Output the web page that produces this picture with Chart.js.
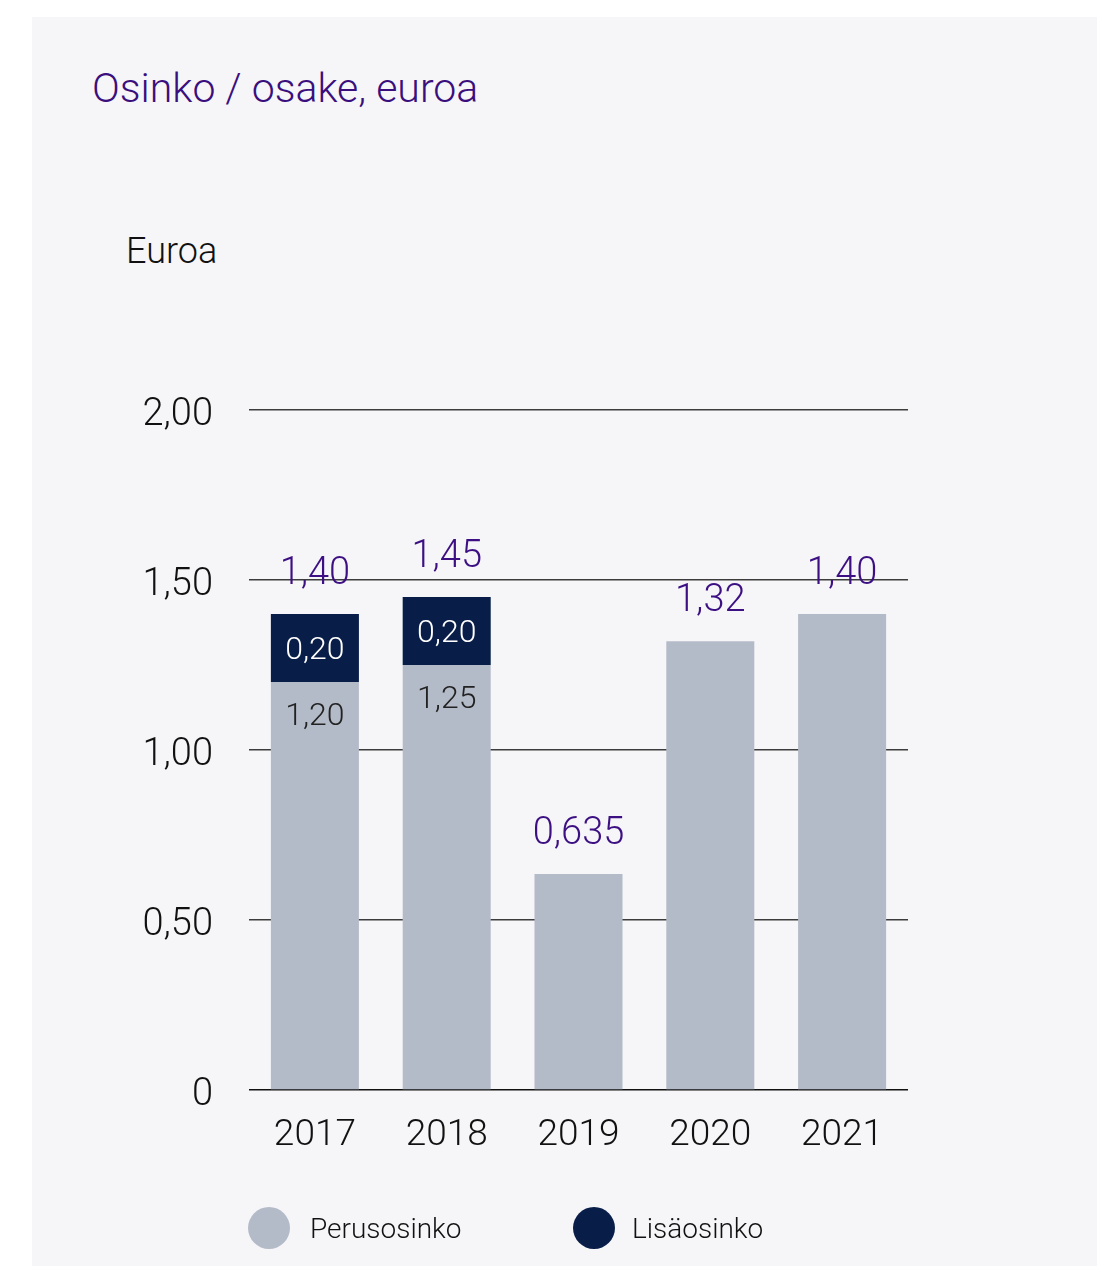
<!DOCTYPE html>
<html>
<head>
<meta charset="utf-8">
<script src="https://cdn.jsdelivr.net/npm/chart.js@4.4.0/dist/chart.umd.min.js"></script>
<style>
    html, body { margin: 0; padding: 0; background: #ffffff; }
    body { width: 1097px; height: 1266px; position: relative; overflow: hidden; font-family: Roboto, sans-serif; }
    .panel { position: absolute; left: 32px; top: 17px; width: 1065px; height: 1249px; background: #f6f6f9; }
    .title { position: absolute; left: 92px; top: 68px; font-size: 41px; font-weight: 300; line-height: 1; color: #3a0f7d; white-space: nowrap; }
    .unit { position: absolute; left: 126px; top: 233px; font-size: 36px; font-weight: 300; line-height: 1; color: #111111; }
    #chart { position: absolute; left: 0; top: 0; }
    .legend-item { position: absolute; top: 1207px; height: 42px; display: flex; align-items: center; }
    .legend-dot { width: 42px; height: 42px; border-radius: 50%; margin-right: 20px; }
    .legend-text { font-size: 28px; font-weight: 300; color: #111111; white-space: nowrap; }
</style>
</head>
<body>
<div class="panel"></div>
<div class="title">Osinko / osake, euroa</div>
<div class="unit">Euroa</div>
<canvas id="chart" width="1097" height="1266"></canvas>
<div class="legend-item" style="left:248px"><div class="legend-dot" style="background:#b4bbc8"></div><div class="legend-text">Perusosinko</div></div>
<div class="legend-item" style="left:573px"><div class="legend-dot" style="background:#081e48"></div><div class="legend-text" style="margin-left:-3px">Lisäosinko</div></div>
<script>
const years = ['2017', '2018', '2019', '2020', '2021'];
const baseDividend = [1.20, 1.25, 0.635, 1.32, 1.40];
const extraDividend = [0.20, 0.20, 0, 0, 0];
const yTicks = [0, 0.5, 1, 1.5, 2];

const grayColor = '#b4bbc8';
const navyColor = '#081e48';
const purpleColor = '#3c1082';

function fmt(v) {
    const r = Math.round(v * 1000) / 1000;
    let s = r.toFixed(3);
    if (s.endsWith('0')) s = r.toFixed(2);
    return s.replace('.', ',');
}

// totals above bars, segment values inside stacked bars
const labelPlugin = {
    id: 'barLabels',
    afterDatasetsDraw(chart) {
        const ctx = chart.ctx;
        const baseMeta = chart.getDatasetMeta(0);
        const extraMeta = chart.getDatasetMeta(1);
        ctx.save();
        ctx.textAlign = 'center';
        ctx.textBaseline = 'middle';
        years.forEach((year, i) => {
            const b = baseMeta.data[i];
            const e = extraMeta.data[i];
            const hasExtra = extraDividend[i] > 0;
            const topY = hasExtra ? e.y : b.y;

            ctx.fillStyle = purpleColor;
            ctx.font = '300 38px Roboto';
            ctx.fillText(fmt(baseDividend[i] + extraDividend[i]), b.x, topY - 40);

            if (hasExtra) {
                ctx.font = '300 32px Roboto';
                ctx.fillStyle = '#ffffff';
                ctx.fillText(fmt(extraDividend[i]), e.x, (e.y + e.base) / 2 + 3);
                ctx.fillStyle = '#222222';
                ctx.fillText(fmt(baseDividend[i]), b.x, b.y + 35);
            }
        });
        ctx.restore();
    }
};

new Chart(document.getElementById('chart'), {
    type: 'bar',
    data: {
        labels: years,
        datasets: [{
            label: 'Perusosinko',
            data: baseDividend,
            backgroundColor: grayColor,
            borderWidth: 0
        }, {
            label: 'Lisäosinko',
            data: extraDividend.map(v => v > 0 ? v : null),
            backgroundColor: navyColor,
            borderWidth: 0
        }]
    },
    options: {
        responsive: false,
        animation: false,
        layout: {
            padding: { top: 410, right: 189, bottom: 76, left: 0 }
        },
        datasets: {
            bar: { categoryPercentage: 1, barPercentage: 0.668 }
        },
        scales: {
            x: {
                stacked: true,
                grid: { display: false },
                border: { display: false },
                ticks: {
                    padding: 16,
                    color: '#111111',
                    maxRotation: 0,
                    font: { family: 'Roboto', size: 37, weight: '300' }
                },
                afterFit: scale => { scale.height = 100; }
            },
            y: {
                stacked: true,
                min: 0,
                max: 2,
                afterBuildTicks: scale => { scale.ticks = yTicks.map(v => ({ value: v })); },
                afterFit: scale => { scale.width = 249; },
                border: { display: false },
                grid: {
                    drawTicks: false,
                    lineWidth: 1.6,
                    color: ctx => ctx.tick && ctx.tick.value === 0 ? '#111111' : '#3c3c3c'
                },
                ticks: {
                    padding: 36,
                    labelOffset: 5,
                    color: '#111111',
                    font: { family: 'Roboto', size: 38, weight: '300' },
                    callback: v => v === 0 ? '0' : v.toFixed(2).replace('.', ',')
                }
            }
        },
        plugins: {
            legend: { display: false },
            tooltip: { enabled: false }
        }
    },
    plugins: [labelPlugin]
});
</script>
</body>
</html>
